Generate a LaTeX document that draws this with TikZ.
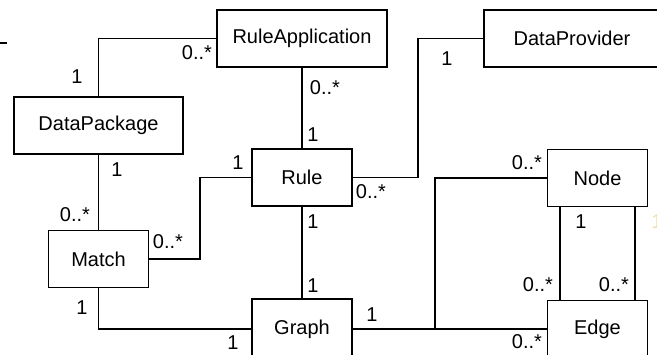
\documentclass[tikz,border=0pt]{standalone}
\usepackage{fontspec}
\setmainfont{Liberation Sans}
\usetikzlibrary{positioning}

\begin{document}
\begin{tikzpicture}[x=0.75pt,y=0.75pt,yscale=-1,xscale=1,
  cls/.style={draw, line width=1.1pt, minimum width=75pt, minimum height=42.75pt, inner sep=0pt, font=\fontsize{15}{18}\selectfont},
  mult/.style={inner sep=0pt, font=\fontsize{15}{18}\selectfont},
  assoc/.style={line width=1.1pt}]
\useasboundingbox (0,0) rectangle (657,354);

%Shapes: classes
\node [cls, minimum width=127.5pt] (ruleapp) at (302,38.5) {RuleApplication};
\node [cls, minimum width=132pt] (dataprov) at (572,38.5) {DataProvider};
\node [cls, minimum width=126.75pt] (datapkg) at (98.5,125.5) {DataPackage};
\node [cls] (rule) at (302,177.5) {Rule};
\node [cls] (match) at (98.5,259) {Match};
\node [cls, minimum height=45pt] (graph) at (302,329) {Graph};
\node [cls] (node) at (597.5,178) {Node};
\node [cls] (edge) at (597.5,329) {Edge};

%Bend points
\coordinate (bendmr) at (200,0);
\coordinate (bendrd) at (418,0);
\coordinate (bendgn) at (435,0);

%Straight Lines
\draw [assoc] (0,43) -- (7,43);
\draw [assoc] (datapkg.north) |- (ruleapp.west);
\draw [assoc] (ruleapp.south) -- (rule.north);
\draw [assoc] (datapkg.south) -- (match.north);
\draw [assoc] (match.east) -- (match.east -| bendmr) |- (rule.west);
\draw [assoc] (rule.east) -- (rule.east -| bendrd) |- (dataprov.west);
\draw [assoc] (rule.south) -- (graph.north);
\draw [assoc] (match.south) |- (graph.west);
\draw [assoc] (graph.east) -- (edge.west);
\draw [assoc] (graph.east -| bendgn) |- (node.west);
\draw [assoc] (node.south -| 560,0) -- (edge.north -| 560,0);
\draw [assoc] (node.south -| 635,0) -- (edge.north -| 635,0);

% Text Node
\node [mult] (m1) at (77,77) {1};
\node [mult] (m2) at (197,53) {0..*};
\node [mult] (m3) at (325,88) {0..*};
\node [mult] (m4) at (313,135) {1};
\node [mult] (m5) at (117,170) {1};
\node [mult] (m6) at (75,215) {0..*};
\node [mult] (m7) at (168,242) {0..*};
\node [mult] (m8) at (238,163) {1};
\node [mult] (m9) at (447,59) {1};
\node [mult] (m10) at (371,192) {0..*};
\node [mult] (m11) at (313,222) {1};
\node [mult] (m12) at (313,286) {1};
\node [mult] (m13) at (82,308) {1};
\node [mult] (m14) at (233,343) {1};
\node [mult] (m15) at (372,315) {1};
\node [mult] (m16) at (527,163) {0..*};
\node [mult] (m17) at (581,222) {1};
\node [mult] (m18) at (538,285) {0..*};
\node [mult] (m19) at (614,285) {0..*};
\node [mult] (m20) at (527,342) {0..*};
\node [mult, color={rgb, 255:red, 240; green, 222; blue, 170}] (m21) at (657,222) {1};

\end{tikzpicture}
\end{document}
